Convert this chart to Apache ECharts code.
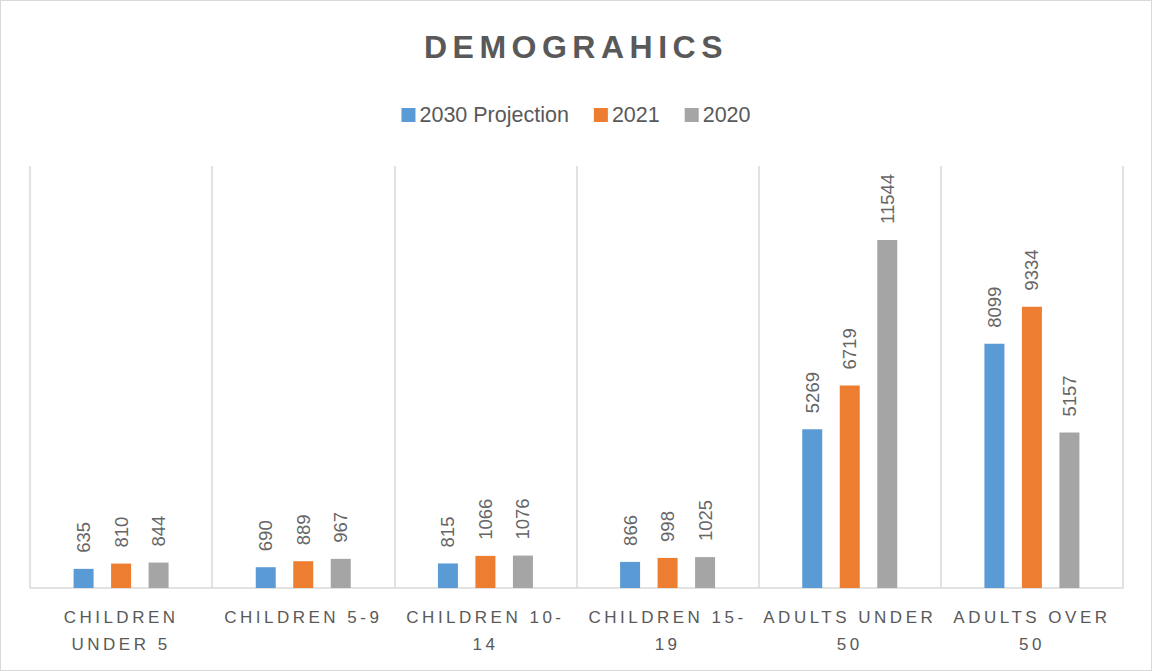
<!DOCTYPE html>
<html>
<head>
<meta charset="utf-8">
<script src="https://cdn.jsdelivr.net/npm/echarts@6/dist/echarts.min.js"></script>
<style>
  html, body { margin: 0; padding: 0; background: #fff; }
  #chart { width: 1150px; height: 669px; border: 1px solid #d9d9d9; }
  text[style*="xttl"] { letter-spacing: 5.5px; }
  text[style*="xaxl"] { letter-spacing: 3.5px; }
</style>
</head>
<body>
<div id="chart"></div>
<script>
const categories = ['Children under 5', 'Children 5-9', 'Children 10-14', 'Children 15-19', 'Adults under 50', 'Adults over 50'];
const tickLabels = ['CHILDREN\nUNDER 5', 'CHILDREN 5-9', 'CHILDREN 10-\n14', 'CHILDREN 15-\n19', 'ADULTS UNDER\n50', 'ADULTS OVER\n50'];
const seriesNames = ['2030 Projection', '2021', '2020'];
const projection2030 = [635, 690, 815, 866, 5269, 8099];
const values2021 = [810, 889, 1066, 998, 6719, 9334];
const values2020 = [844, 967, 1076, 1025, 11544, 5157];
const colors = ['#5B9BD5', '#ED7D31', '#A5A5A5'];

const chart = echarts.init(document.getElementById('chart'), null, { renderer: 'svg' });
const dataSets = [projection2030, values2021, values2020];

const labelStyle = {
  show: true,
  position: 'top',
  rotate: 90,
  align: 'left',
  verticalAlign: 'middle',
  distance: 16,
  color: '#666666',
  fontSize: 18.5,
  fontFamily: "'Liberation Sans', Arial, sans-serif"
};

chart.setOption({
  animation: false,
  color: colors,
  title: {
    text: 'DEMOGRAHICS',
    left: 'center',
    top: 25,
    textStyle: {
      fontSize: 32,
      fontWeight: 'bold',
      color: '#595959',
      fontFamily: "'Liberation Sans', xttl, sans-serif"
    }
  },
  legend: {
    data: seriesNames,
    top: 98,
    left: 'center',
    itemWidth: 14,
    itemHeight: 14,
    itemGap: 25,
    icon: 'rect',
    textStyle: {
      fontSize: 21.5,
      color: '#595959',
      fontFamily: "'Liberation Sans', Arial, sans-serif",
      padding: [0, 0, 0, -1]
    }
  },
  grid: { left: 29, right: 28, top: 165, bottom: 82 },
  xAxis: {
    type: 'category',
    data: categories,
    axisLine: { lineStyle: { color: '#d9d9d9', width: 1.5 } },
    axisTick: { show: false },
    splitLine: { show: true, lineStyle: { color: '#d9d9d9', width: 1.5 } },
    axisLabel: {
      interval: 0,
      margin: 16,
      color: '#595959',
      fontSize: 17,
      lineHeight: 27,
      fontFamily: "'Liberation Sans', xaxl, sans-serif",
      formatter: function (value, idx) { return tickLabels[idx]; }
    }
  },
  yAxis: {
    type: 'value',
    min: 0,
    max: 14000,
    show: false,
    splitLine: { show: false }
  },
  series: seriesNames.map(function (name, i) {
    return {
      name: name,
      type: 'bar',
      data: dataSets[i],
      barWidth: 20,
      barGap: '87.5%',
      label: labelStyle
    };
  })
});
</script>
</body>
</html>
